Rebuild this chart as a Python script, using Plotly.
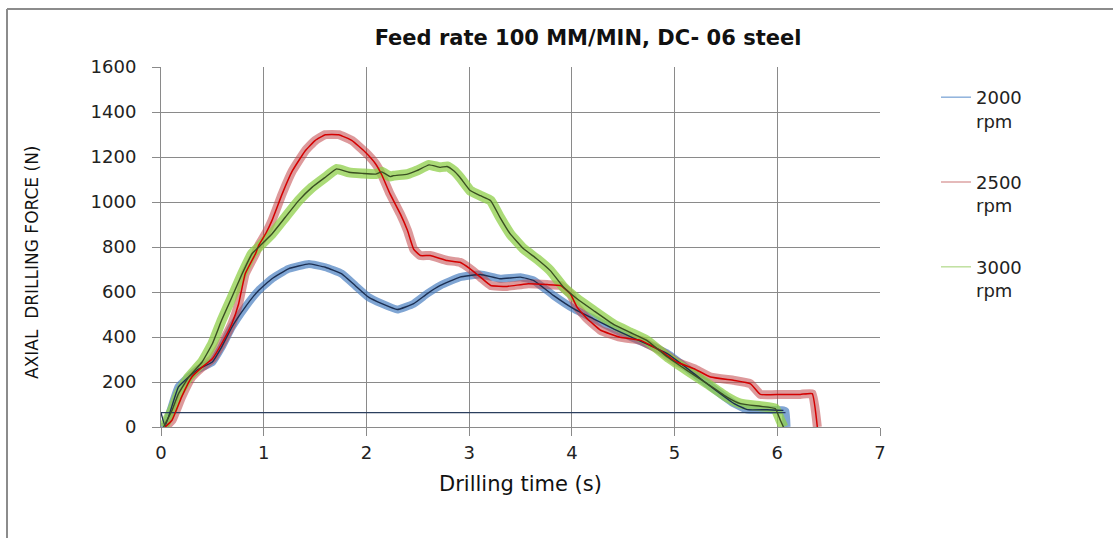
import plotly.graph_objects as go

# ---------------- data ----------------
# 2000 rpm
t_2000 = [0.0, 0.04, 0.17, 0.27, 0.37, 0.50, 0.59, 0.69, 0.82, 0.95, 1.08, 1.24, 1.44, 1.60,
          1.76, 1.89, 2.02, 2.15, 2.30, 2.46, 2.59, 2.72, 2.91, 3.11, 3.30, 3.50, 3.63, 3.82,
          4.02, 4.21, 4.41, 4.60, 4.93, 5.19, 5.38, 5.58, 5.71, 5.90, 6.06, 6.08, 6.09]
f_2000 = [0, 5, 178, 222, 259, 289, 355, 444, 533, 607, 659, 703, 725, 710,
          681, 629, 577, 548, 522, 548, 592, 629, 666, 678, 659, 666, 651, 585,
          525, 481, 435, 395, 326, 237, 170, 104, 77, 77, 74, 70, 0]
# moving-average trend 2000 rpm
t_2000_avg = [0.0, 0.04, 0.17, 0.27, 0.37, 0.50, 0.59, 0.69, 0.82, 0.95, 1.08, 1.24, 1.44, 1.60,
              1.76, 1.89, 2.02, 2.15, 2.30, 2.46, 2.59, 2.72, 2.91, 3.11, 3.30, 3.50, 3.63, 3.82,
              4.02, 4.21, 4.41, 4.60, 4.93, 5.19, 5.38, 5.58, 5.71, 5.90, 6.06]
f_2000_avg = [64, 5, 178, 222, 259, 289, 355, 444, 533, 607, 659, 703, 725, 710,
              681, 629, 577, 548, 522, 548, 592, 629, 666, 678, 659, 666, 651, 585,
              525, 481, 435, 395, 326, 237, 170, 104, 77, 77, 74]
t_2000_base = [0.0, 6.08]
f_2000_base = [64, 64]

# 2500 rpm
t_2500 = [0.04, 0.107, 0.20, 0.30, 0.40, 0.50, 0.59, 0.69, 0.756, 0.82, 0.92, 0.95, 1.02, 1.08,
          1.18, 1.28, 1.405, 1.50, 1.60, 1.73, 1.86, 1.99, 2.09, 2.15, 2.23, 2.33, 2.40, 2.46,
          2.525, 2.62, 2.785, 2.91, 3.01, 3.11, 3.21, 3.37, 3.56, 3.76, 3.89, 3.985, 4.05,
          4.15, 4.28, 4.47, 4.67, 4.86, 5.02, 5.19, 5.35, 5.58, 5.74, 5.835, 6.03, 6.225,
          6.34, 6.39]
f_2500 = [0, 30, 133, 222, 266, 303, 370, 459, 548, 681, 770, 806, 860, 917,
          1036, 1139, 1228, 1273, 1299, 1299, 1273, 1221, 1169, 1120, 1036, 947, 873, 790,
          762, 762, 740, 732, 703, 666, 629, 625, 636, 633, 629, 592, 533,
          481, 430, 399, 385, 340, 289, 259, 222, 207, 192, 145, 145, 145,
          148, 0]

# 3000 rpm
t_3000 = [0.025, 0.107, 0.17, 0.27, 0.40, 0.50, 0.59, 0.69, 0.79, 0.886, 0.95, 1.08, 1.21,
          1.34, 1.47, 1.60, 1.71, 1.83, 1.96, 2.09, 2.15, 2.23, 2.265, 2.40, 2.49, 2.61, 2.72,
          2.785, 2.85, 2.91, 3.01, 3.11, 3.21, 3.30, 3.40, 3.53, 3.66, 3.79, 3.92, 4.05, 4.21,
          4.41, 4.57, 4.73, 4.93, 5.12, 5.32, 5.51, 5.64, 5.835, 5.98, 6.03, 6.06]
f_3000 = [0, 74, 148, 222, 289, 370, 474, 577, 681, 770, 799, 858, 932,
          1006, 1065, 1110, 1147, 1132, 1127, 1124, 1134, 1113, 1117, 1124, 1139, 1165, 1154,
          1158, 1139, 1110, 1051, 1028, 1006, 932, 858, 792, 747, 695, 621, 570, 518,
          455, 420, 385, 311, 252, 192, 133, 104, 92, 82, 30, 0]

legend_names = ["2000<br>rpm", "2500<br>rpm", "3000<br>rpm"]
x_ticks = [0, 1, 2, 3, 4, 5, 6, 7]
y_ticks = [0, 200, 400, 600, 800, 1000, 1200, 1400, 1600]

# ---------------- styling ----------------
FONT = "DejaVu Sans"
GRID = "#8a8a8a"
SHAPE = "spline"
SMOOTH = 0.35

fig = go.Figure()

# raw (noisy) signals drawn as translucent bands
fig.add_trace(go.Scatter(x=t_2000, y=f_2000, mode="lines", showlegend=False,
                         line=dict(color="#4a7fc1", width=8, shape=SHAPE, smoothing=SMOOTH),
                         opacity=0.7, hoverinfo="skip"))
fig.add_trace(go.Scatter(x=t_2500, y=f_2500, mode="lines", showlegend=False,
                         line=dict(color="#c2474a", width=9, shape=SHAPE, smoothing=SMOOTH),
                         opacity=0.55, hoverinfo="skip"))
fig.add_trace(go.Scatter(x=t_3000, y=f_3000, mode="lines", showlegend=False,
                         line=dict(color="#8fd04a", width=10, shape=SHAPE, smoothing=SMOOTH),
                         opacity=0.75, hoverinfo="skip"))

# trend lines
fig.add_trace(go.Scatter(x=t_2000_base, y=f_2000_base, mode="lines", showlegend=False,
                         line=dict(color="#2b3f5e", width=1.2)))
fig.add_trace(go.Scatter(x=t_2000_avg, y=f_2000_avg, mode="lines", showlegend=False,
                         line=dict(color="#1c2f52", width=1.4, shape=SHAPE, smoothing=SMOOTH)))
fig.add_trace(go.Scatter(x=t_2500, y=f_2500, mode="lines", showlegend=False,
                         line=dict(color="#d40000", width=1.5, shape=SHAPE, smoothing=SMOOTH)))
fig.add_trace(go.Scatter(x=t_3000, y=f_3000, mode="lines", showlegend=False,
                         line=dict(color="#3a4f22", width=1.4, shape=SHAPE, smoothing=SMOOTH)))

# legend entries
for name, col, grp in zip(legend_names, ["#8fb2dc", "#dca3a3", "#bfe09f"], ["a", "b", "c"]):
    fig.add_trace(go.Scatter(x=[None], y=[None], mode="lines", name=name,
                             legendgroup=grp, line=dict(color=col, width=1.5)))

L, R, T, B = 161, 233, 67, 111
W, H = 1113, 538
pw, ph = W - L - R, H - T - B

def px_x(px):
    return (px - L) / pw

def px_y(py):
    return (H - B - py) / ph

fig.update_layout(
    width=W, height=H,
    margin=dict(l=L, r=R, t=T, b=B),
    paper_bgcolor="white", plot_bgcolor="white",
    font=dict(family=FONT, size=18, color="#222222"),
    title=dict(text="<b>Feed rate 100 MM/MIN, DC- 06 steel</b>", x=588 / W, xanchor="center",
               xref="container", y=1 - 38 / H, yanchor="middle", yref="container",
               font=dict(family=FONT, size=21, color="#111111")),
    legend=dict(x=px_x(936), xanchor="left", y=px_y(79), yanchor="top",
                font=dict(family=FONT, size=18, color="#222222"), valign="top",
                tracegroupgap=35, bgcolor="rgba(0,0,0,0)"),
    xaxis=dict(range=[0, 7], tickvals=x_ticks, ticktext=[str(v) for v in x_ticks],
               showgrid=True, gridcolor=GRID, gridwidth=1, zeroline=False,
               showline=True, linecolor=GRID, linewidth=1, mirror=False,
               ticks="outside", ticklen=8, tickcolor=GRID, ticklabelstandoff=1,
               title=dict(text="Drilling time (s)", font=dict(family=FONT, size=21, color="#111111"),
                          standoff=14)),
    yaxis=dict(range=[0, 1600], tickvals=y_ticks, ticktext=[str(v) for v in y_ticks],
               showgrid=True, gridcolor=GRID, gridwidth=1, zeroline=False,
               showline=True, linecolor=GRID, linewidth=1,
               ticks="outside", ticklen=8, tickcolor=GRID, ticklabelstandoff=12),
    annotations=[dict(text="AXIAL  DRILLING FORCE (N)", textangle=-90, showarrow=False,
                      xref="paper", yref="paper", x=px_x(32), y=px_y(263),
                      xanchor="center", yanchor="middle",
                      font=dict(family=FONT, size=17, color="#111111"))],
    shapes=[
        dict(type="line", xref="paper", yref="paper", x0=px_x(7), x1=px_x(7),
             y0=px_y(9), y1=px_y(560), line=dict(color="#8c8c8c", width=2)),
        dict(type="line", xref="paper", yref="paper", x0=px_x(7), x1=px_x(1130),
             y0=px_y(9), y1=px_y(9), line=dict(color="#8c8c8c", width=2)),
    ],
)

fig.write_html("out.html")
